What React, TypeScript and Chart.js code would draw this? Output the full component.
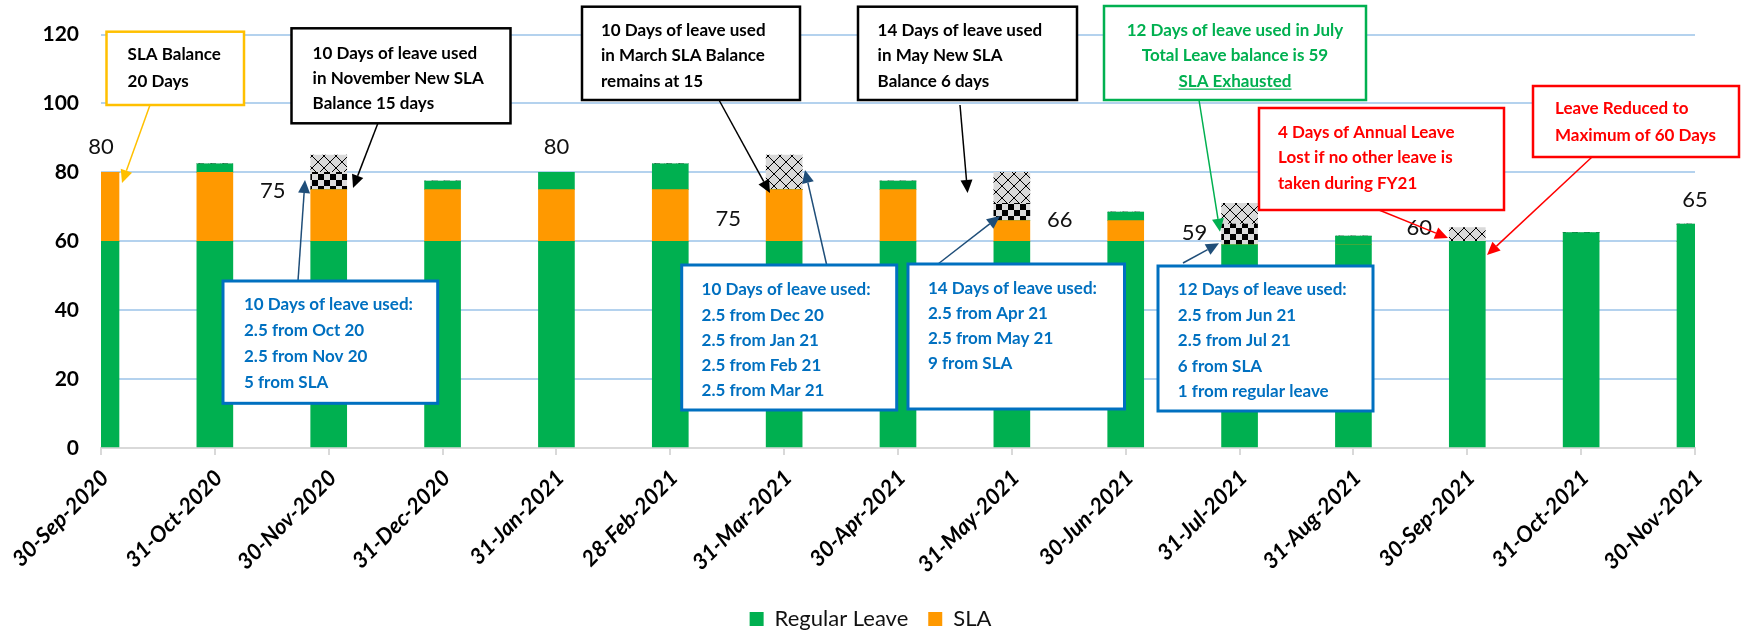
import React, { useEffect, useRef } from 'react';
import { Chart, registerables } from 'chart.js';

Chart.register(...registerables);

// ---------------- data ----------------
const categories = [
  '30-Sep-2020', '31-Oct-2020', '30-Nov-2020', '31-Dec-2020', '31-Jan-2021',
  '28-Feb-2021', '31-Mar-2021', '30-Apr-2021', '31-May-2021', '30-Jun-2021',
  '31-Jul-2021', '31-Aug-2021', '30-Sep-2021', '31-Oct-2021', '30-Nov-2021',
];
const regularLeave = [60, 60, 60, 60, 60, 60, 60, 60, 60, 60, 59, 59, 60, 60, 60];
const slaLeave = [20, 20, 15, 15, 15, 15, 15, 15, 6, 6, 0, 0, 0, 0, 0];
const accruedLeave = [0, 2.5, 0, 2.5, 5, 7.5, 0, 2.5, 0, 2.5, 0, 2.5, 0, 2.5, 5];
const usedCheck = [0, 0, 5, 0, 0, 0, 0, 0, 5, 0, 6, 0, 0, 0, 0];
const usedCross = [0, 0, 5, 0, 0, 0, 10, 0, 9, 0, 6, 0, 4, 0, 0];
const yMin = 0;
const yMax = 120;
const yStep = 20;
const labelledBars = [0, 2, 4, 6, 8, 10, 12, 14];

// ---------------- layout / style ----------------
const W = 1741;
const H = 630;
const PLOT_LEFT = 101;
const PLOT_RIGHT = 1695;
const PLOT_TOP = 28;
const PLOT_BOTTOM = 448;
const PAD_BOTTOM = -10;
const GREEN = '#00B050';
const ORANGE = '#FF9900';
const FONT = 'Lato';
const BOX_FONT = `bold 17px ${FONT}`;

// value label offsets (px) relative to bar centre / stack top
const labelOffsets: Record<number, [number, number]> = {
  0: [0, -25], 2: [-56, 1], 4: [0, -25], 6: [-56, 29],
  8: [48, -1], 10: [-45, -12], 12: [-48, -13.5], 14: [0, -24.5],
};

type Callout = {
  rect: [number, number, number, number];
  border: string; bw: number; color: string;
  align: 'left' | 'center'; tx: number; y0: number; dy: number;
  lines: string[]; underlineLast?: boolean;
  arrow: [number, number, number, number]; arrowColor: string;
};

const callouts: Callout[] = [
  { rect: [106.5, 31.7, 137.5, 73.3], border: '#FFC000', bw: 2.5, color: '#000', align: 'left', tx: 127.6, y0: 55, dy: 26.7,
    lines: ['SLA Balance', '20 Days'], arrow: [150, 105, 122, 183], arrowColor: '#FFC000' },
  { rect: [291.5, 28.3, 219, 95], border: '#000', bw: 2.5, color: '#000', align: 'left', tx: 312.6, y0: 53.3, dy: 25,
    lines: ['10 Days of leave used', 'in November New SLA', 'Balance 15 days'], arrow: [378, 123, 353, 188], arrowColor: '#000' },
  { rect: [582, 6.7, 218, 93.3], border: '#000', bw: 2.5, color: '#000', align: 'left', tx: 601, y0: 30.7, dy: 25.2,
    lines: ['10 Days of leave used', 'in March SLA Balance', 'remains at 15'], arrow: [719, 100, 770, 193], arrowColor: '#000' },
  { rect: [858, 6.7, 219, 93.3], border: '#000', bw: 2.5, color: '#000', align: 'left', tx: 877.6, y0: 30.7, dy: 25.2,
    lines: ['14 Days of leave used', 'in May New SLA', 'Balance 6 days'], arrow: [960, 105, 967.6, 193], arrowColor: '#000' },
  { rect: [1104, 6, 262, 94], border: GREEN, bw: 2.5, color: GREEN, align: 'center', tx: 1235, y0: 30.7, dy: 25.2,
    lines: ['12 Days of leave used in July', 'Total Leave balance is 59', 'SLA Exhausted'], underlineLast: true,
    arrow: [1199, 100, 1220, 231.7], arrowColor: GREEN },
  { rect: [1259, 108, 245, 102], border: '#FF0000', bw: 2.5, color: '#FF0000', align: 'left', tx: 1278, y0: 132.7, dy: 25.3,
    lines: ['4 Days of Annual Leave', 'Lost if no other leave is', 'taken during FY21'], arrow: [1379, 210, 1448, 238], arrowColor: '#FF0000' },
  { rect: [1533, 86, 206, 71], border: '#FF0000', bw: 2.5, color: '#FF0000', align: 'left', tx: 1555, y0: 109, dy: 27,
    lines: ['Leave Reduced to', 'Maximum of 60 Days'], arrow: [1592, 157, 1487, 255], arrowColor: '#FF0000' },
  { rect: [223, 281, 214.7, 122.3], border: '#0070C0', bw: 3, color: '#0070C0', align: 'left', tx: 244, y0: 305, dy: 25.8,
    lines: ['10 Days of leave used:', '2.5 from Oct 20', '2.5 from Nov 20', '5 from SLA'], arrow: [298, 281, 305, 180], arrowColor: '#1F4E79' },
  { rect: [681.7, 265, 215, 145], border: '#0070C0', bw: 3, color: '#0070C0', align: 'left', tx: 701.6, y0: 290, dy: 25.2,
    lines: ['10 Days of leave used:', '2.5 from Dec 20', '2.5 from Jan 21', '2.5 from Feb 21', '2.5 from Mar 21'], arrow: [826.7, 265, 805, 170], arrowColor: '#1F4E79' },
  { rect: [908, 264, 216.5, 145], border: '#0070C0', bw: 3, color: '#0070C0', align: 'left', tx: 928, y0: 289, dy: 25,
    lines: ['14 Days of leave used:', '2.5 from Apr 21', '2.5 from May 21', '9 from SLA'], arrow: [938, 264, 1000, 216], arrowColor: '#1F4E79' },
  { rect: [1158, 266, 215, 145], border: '#0070C0', bw: 3, color: '#0070C0', align: 'left', tx: 1177.8, y0: 290, dy: 25.4,
    lines: ['12 Days of leave used:', '2.5 from Jun 21', '2.5 from Jul 21', '6 from SLA', '1 from regular leave'], arrow: [1183, 263, 1219, 243.3], arrowColor: '#1F4E79' },
];

function makeChecker(): CanvasPattern | string {
  const c = document.createElement('canvas');
  c.width = 12; c.height = 12;
  const g = c.getContext('2d');
  if (!g) return '#888';
  g.fillStyle = '#DCDCDC';
  g.fillRect(0, 0, 12, 12);
  g.fillStyle = '#000';
  g.fillRect(0, 0, 6, 6);
  g.fillRect(6, 6, 6, 6);
  return g.createPattern(c, 'repeat') || '#888';
}

function makeCross(): CanvasPattern | string {
  const c = document.createElement('canvas');
  c.width = 12; c.height = 12;
  const g = c.getContext('2d');
  if (!g) return '#ccc';
  g.fillStyle = '#D9D9D9';
  g.fillRect(0, 0, 12, 12);
  g.strokeStyle = '#000';
  g.lineWidth = 1;
  g.beginPath();
  g.moveTo(0, 0); g.lineTo(12, 12);
  g.moveTo(12, 0); g.lineTo(0, 12);
  g.stroke();
  return g.createPattern(c, 'repeat') || '#ccc';
}

function drawArrow(ctx: CanvasRenderingContext2D, x1: number, y1: number, x2: number, y2: number, color: string) {
  const ang = Math.atan2(y2 - y1, x2 - x1);
  const L = 13, hw = 6;
  const bx = x2 - L * Math.cos(ang);
  const by = y2 - L * Math.sin(ang);
  ctx.save();
  ctx.strokeStyle = color;
  ctx.fillStyle = color;
  ctx.lineWidth = 1.5;
  ctx.beginPath();
  ctx.moveTo(x1, y1);
  ctx.lineTo(bx, by);
  ctx.stroke();
  ctx.beginPath();
  ctx.moveTo(x2, y2);
  ctx.lineTo(bx + hw * Math.sin(ang), by - hw * Math.cos(ang));
  ctx.lineTo(bx - hw * Math.sin(ang), by + hw * Math.cos(ang));
  ctx.closePath();
  ctx.fill();
  ctx.restore();
}

const calloutPlugin = {
  id: 'callouts',
  afterDatasetsDraw(chart: any) {
    const ctx: CanvasRenderingContext2D = chart.ctx;
    const xs = chart.scales.x;
    const ys = chart.scales.y;
    ctx.save();
    ctx.font = `22px ${FONT}`;
    ctx.fillStyle = '#111';
    ctx.textAlign = 'center';
    ctx.textBaseline = 'middle';
    labelledBars.forEach((i) => {
      const total = regularLeave[i] + slaLeave[i] + accruedLeave[i];
      const [dx, dy] = labelOffsets[i] || [0, -25];
      ctx.fillText(String(total), xs.getPixelForValue(i) + dx, ys.getPixelForValue(total) + dy);
    });
    ctx.restore();
  },
  afterDraw(chart: any) {
    const ctx: CanvasRenderingContext2D = chart.ctx;
    ctx.save();
    callouts.forEach((c) => {
      drawArrow(ctx, c.arrow[0], c.arrow[1], c.arrow[2], c.arrow[3], c.arrowColor);
    });
    callouts.forEach((c) => {
      const [x, y, w, h] = c.rect;
      ctx.fillStyle = '#fff';
      ctx.fillRect(x, y, w, h);
      ctx.strokeStyle = c.border;
      ctx.lineWidth = c.bw;
      ctx.strokeRect(x, y, w, h);
      ctx.font = BOX_FONT;
      ctx.fillStyle = c.color;
      ctx.textAlign = c.align;
      ctx.textBaseline = 'middle';
      c.lines.forEach((t, k) => {
        const ty = c.y0 + k * c.dy;
        ctx.fillText(t, c.tx, ty);
        if (c.underlineLast && k === c.lines.length - 1) {
          const tw = ctx.measureText(t).width;
          const sx = c.align === 'center' ? c.tx - tw / 2 : c.tx;
          ctx.strokeStyle = c.color;
          ctx.lineWidth = 1.3;
          ctx.beginPath();
          ctx.moveTo(sx, ty + 8);
          ctx.lineTo(sx + tw, ty + 8);
          ctx.stroke();
        }
      });
    });
    ctx.restore();
  },
};

export default function App() {
  const ref = useRef<HTMLCanvasElement | null>(null);

  useEffect(() => {
    if (!ref.current) return;
    const checker = makeChecker();
    const cross = makeCross();
    const common = { stack: 'leave', barThickness: 36, borderWidth: 0, clip: 0 };
    const chart = new Chart(ref.current, {
      type: 'bar',
      data: {
        labels: categories,
        datasets: [
          { label: 'Regular Leave', data: regularLeave, backgroundColor: GREEN, ...common },
          { label: 'SLA', data: slaLeave, backgroundColor: ORANGE, ...common },
          { label: 'Accrued', data: accruedLeave, backgroundColor: GREEN, ...common },
          { label: 'Used A', data: usedCheck, backgroundColor: checker as any, ...common },
          { label: 'Used B', data: usedCross, backgroundColor: cross as any, ...common },
        ] as any,
      },
      options: {
        responsive: false,
        animation: false,
        events: [],
        layout: { padding: { left: 0, right: 0, top: PLOT_TOP, bottom: PAD_BOTTOM } },
        plugins: {
          tooltip: { enabled: false },
          legend: {
            position: 'bottom',
            labels: {
              boxWidth: 14,
              boxHeight: 14,
              padding: 20,
              color: '#111',
              font: { family: FONT, size: 22 },
              filter: (item: any) => item.datasetIndex < 2,
            },
          },
        },
        scales: {
          x: {
            type: 'category',
            offset: false,
            stacked: true,
            grid: { offset: false, drawOnChartArea: false, drawTicks: true, tickLength: 7, color: '#D9D9D9', lineWidth: 2 },
            border: { display: true, color: '#D9D9D9', width: 2 },
            ticks: {
              autoSkip: false,
              minRotation: 45,
              maxRotation: 45,
              padding: 10,
              labelOffset: 4,
              color: '#000',
              font: { family: FONT, size: 22, weight: 'bold', style: 'italic' },
            },
            afterFit: (scale: any) => {
              const lh = scale.chart.legend ? scale.chart.legend.height : 50;
              scale.height = H - PLOT_BOTTOM - lh - PAD_BOTTOM;
            },
          },
          y: {
            stacked: true,
            min: yMin,
            max: yMax,
            ticks: {
              stepSize: yStep,
              padding: 22,
              color: '#000',
              font: { family: FONT, size: 21, weight: 'bold' },
            },
            grid: { color: '#B4D2EE', lineWidth: 2, drawTicks: false },
            border: { display: false },
            afterFit: (scale: any) => {
              scale.width = PLOT_LEFT;
            },
          },
          rightSpace: {
            type: 'linear',
            position: 'right',
            display: true,
            grid: { display: false, drawTicks: false },
            border: { display: false },
            ticks: { display: false },
            afterFit: (scale: any) => {
              scale.width = W - PLOT_RIGHT;
            },
          },
        },
      } as any,
      plugins: [calloutPlugin],
    });
    return () => chart.destroy();
  }, []);

  return (
    <div style={{ position: 'absolute', left: 0, top: 0, width: W, height: H, background: '#fff' }}>
      <canvas ref={ref} width={W} height={H} style={{ display: 'block' }} />
    </div>
  );
}
